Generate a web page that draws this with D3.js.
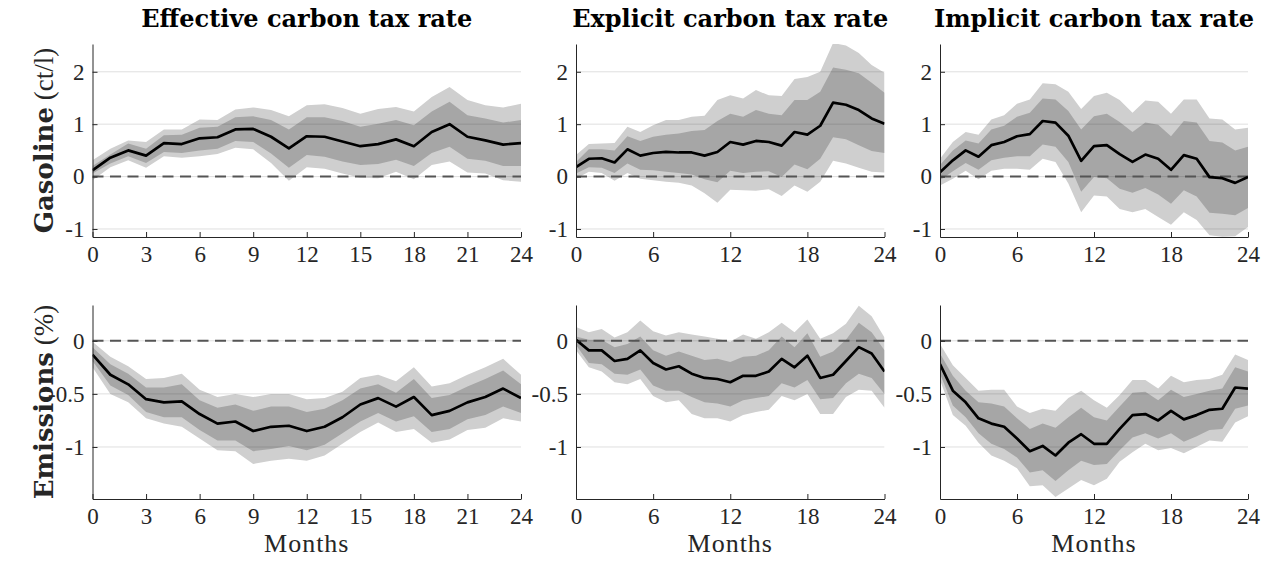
<!DOCTYPE html>
<html>
<head>
<meta charset="utf-8">
<script src="https://cdn.jsdelivr.net/npm/d3@7"></script>
<style>
  body { margin: 0; background: #fff; }
  svg { display: block; }
</style>
</head>
<body>
<svg id="chart" width="1270" height="563"></svg>
<script>
// ---- Data: impulse responses with 68% and 90% bands ----
const months = [0,1,2,3,4,5,6,7,8,9,10,11,12,13,14,15,16,17,18,19,20,21,22,23,24];

const columnTitles = ["Effective carbon tax rate", "Explicit carbon tax rate", "Implicit carbon tax rate"];
const rowLabelBold = ["Gasoline", "Emissions"];
const rowLabelUnit = ["(ct/l)", "(%)"];
const xLabel = "Months";

const gasYTicks = [-1, 0, 1, 2];
const emiYTicks = [-1, -0.5, 0];
const xTicksEffective = [0, 3, 6, 9, 12, 15, 18, 21, 24];
const xTicksOther = [0, 6, 12, 18, 24];

// Gasoline price, effective carbon tax rate
const gasEffMid  = [0.12,0.36,0.50,0.40,0.64,0.62,0.73,0.75,0.90,0.91,0.76,0.54,0.77,0.76,0.67,0.58,0.62,0.71,0.58,0.85,1.00,0.76,0.69,0.61,0.64];
const gasEffHi68 = [0.20,0.42,0.63,0.53,0.79,0.80,0.93,0.95,1.13,1.15,1.08,0.90,1.13,1.13,1.06,0.95,1.01,1.08,0.98,1.24,1.43,1.17,1.11,1.03,1.08];
const gasEffLo68 = [0.06,0.25,0.39,0.26,0.47,0.45,0.50,0.53,0.68,0.66,0.44,0.17,0.41,0.38,0.29,0.22,0.24,0.32,0.20,0.45,0.57,0.34,0.30,0.20,0.20];
const gasEffHi90 = [0.31,0.53,0.69,0.66,0.90,0.90,1.09,1.08,1.28,1.32,1.27,1.15,1.36,1.38,1.31,1.20,1.29,1.33,1.24,1.52,1.71,1.46,1.36,1.32,1.39];
const gasEffLo90 = [-0.07,0.18,0.31,0.17,0.39,0.36,0.39,0.43,0.55,0.52,0.26,-0.08,0.18,0.15,0.06,-0.02,-0.03,0.09,-0.05,0.22,0.29,0.08,0.06,-0.07,-0.10];

// Gasoline price, explicit carbon tax rate
const gasExpMid  = [0.18,0.34,0.35,0.27,0.52,0.40,0.45,0.47,0.46,0.46,0.40,0.47,0.66,0.61,0.68,0.66,0.59,0.85,0.80,0.97,1.41,1.37,1.27,1.11,1.01];
const gasExpHi68 = [0.28,0.52,0.52,0.50,0.77,0.68,0.76,0.80,0.82,0.87,0.89,1.06,1.20,1.14,1.27,1.20,1.17,1.46,1.46,1.62,2.08,2.04,1.97,1.79,1.60];
const gasExpLo68 = [0.06,0.18,0.17,0.07,0.25,0.13,0.12,0.09,0.07,0.04,-0.05,-0.11,0.11,0.07,0.09,0.10,-0.01,0.23,0.14,0.34,0.75,0.71,0.60,0.49,0.45];
const gasExpHi90 = [0.41,0.62,0.63,0.64,0.95,0.85,0.98,1.08,1.08,1.14,1.16,1.46,1.55,1.49,1.65,1.55,1.54,1.86,1.90,2.00,2.55,2.50,2.36,2.13,1.98];
const gasExpLo90 = [-0.04,0.09,0.07,-0.08,0.07,-0.04,-0.07,-0.10,-0.12,-0.17,-0.32,-0.50,-0.25,-0.26,-0.27,-0.24,-0.37,-0.17,-0.29,-0.10,0.30,0.25,0.17,0.09,0.08];

// Gasoline price, implicit carbon tax rate
const gasImpMid  = [0.08,0.31,0.50,0.38,0.60,0.66,0.77,0.81,1.06,1.03,0.78,0.30,0.58,0.60,0.43,0.28,0.42,0.34,0.13,0.41,0.34,-0.01,-0.03,-0.12,-0.01];
const gasImpHi68 = [0.22,0.50,0.69,0.63,0.90,0.97,1.14,1.22,1.49,1.47,1.25,0.90,1.15,1.20,1.04,0.85,1.03,0.99,0.77,1.06,1.03,0.68,0.65,0.50,0.57];
const gasImpLo68 = [-0.07,0.10,0.26,0.13,0.31,0.36,0.39,0.39,0.61,0.57,0.28,-0.29,-0.01,-0.03,-0.23,-0.31,-0.22,-0.34,-0.52,-0.26,-0.38,-0.69,-0.71,-0.74,-0.60];
const gasImpHi90 = [0.34,0.66,0.85,0.80,1.09,1.17,1.39,1.47,1.78,1.76,1.62,1.29,1.54,1.60,1.46,1.22,1.45,1.43,1.20,1.47,1.47,1.11,1.09,0.90,0.93];
const gasImpLo90 = [-0.17,-0.04,0.11,-0.05,0.11,0.15,0.15,0.13,0.34,0.28,-0.13,-0.68,-0.36,-0.38,-0.62,-0.68,-0.62,-0.77,-0.92,-0.68,-0.83,-1.12,-1.15,-1.14,-0.96];

// Emissions, effective carbon tax rate
const emiEffMid  = [-0.13,-0.32,-0.41,-0.55,-0.58,-0.57,-0.69,-0.78,-0.76,-0.85,-0.81,-0.80,-0.85,-0.81,-0.72,-0.60,-0.54,-0.62,-0.53,-0.70,-0.66,-0.58,-0.53,-0.45,-0.54];
const emiEffHi68 = [-0.06,-0.22,-0.31,-0.44,-0.44,-0.41,-0.56,-0.63,-0.60,-0.66,-0.62,-0.62,-0.67,-0.64,-0.56,-0.45,-0.41,-0.49,-0.36,-0.54,-0.51,-0.43,-0.36,-0.28,-0.41];
const emiEffLo68 = [-0.19,-0.42,-0.51,-0.67,-0.72,-0.72,-0.84,-0.94,-0.94,-1.04,-1.02,-0.99,-1.03,-0.98,-0.87,-0.76,-0.68,-0.76,-0.71,-0.86,-0.83,-0.74,-0.70,-0.62,-0.68];
const emiEffHi90 = [-0.01,-0.15,-0.24,-0.36,-0.35,-0.31,-0.46,-0.53,-0.50,-0.53,-0.50,-0.50,-0.55,-0.54,-0.48,-0.35,-0.32,-0.38,-0.25,-0.43,-0.40,-0.32,-0.25,-0.17,-0.32];
const emiEffLo90 = [-0.25,-0.50,-0.58,-0.73,-0.78,-0.81,-0.92,-1.03,-1.04,-1.16,-1.13,-1.11,-1.13,-1.08,-0.97,-0.86,-0.77,-0.86,-0.83,-0.96,-0.93,-0.84,-0.82,-0.73,-0.76];

// Emissions, explicit carbon tax rate
const emiExpMid  = [0.01,-0.09,-0.09,-0.19,-0.17,-0.09,-0.21,-0.27,-0.24,-0.31,-0.35,-0.36,-0.39,-0.33,-0.33,-0.29,-0.17,-0.25,-0.14,-0.35,-0.32,-0.19,-0.06,-0.12,-0.29];
const emiExpHi68 = [0.04,0.01,0.01,-0.06,-0.03,0.04,-0.09,-0.14,-0.10,-0.14,-0.18,-0.17,-0.20,-0.15,-0.14,-0.09,0.04,-0.06,0.07,-0.15,-0.10,0.01,0.17,0.08,-0.09];
const emiExpLo68 = [-0.04,-0.21,-0.22,-0.31,-0.32,-0.27,-0.42,-0.47,-0.47,-0.53,-0.58,-0.59,-0.62,-0.56,-0.54,-0.52,-0.40,-0.44,-0.37,-0.55,-0.54,-0.40,-0.31,-0.35,-0.50];
const emiExpHi90 = [0.13,0.08,0.11,0.03,0.08,0.19,0.09,0.05,0.08,0.06,0.04,0.02,-0.01,0.06,0.02,0.08,0.17,0.08,0.20,0.02,0.07,0.16,0.33,0.23,0.03];
const emiExpLo90 = [-0.09,-0.25,-0.29,-0.39,-0.41,-0.36,-0.52,-0.58,-0.56,-0.69,-0.73,-0.73,-0.76,-0.70,-0.67,-0.65,-0.52,-0.56,-0.50,-0.69,-0.69,-0.53,-0.46,-0.47,-0.63];

// Emissions, implicit carbon tax rate
const emiImpMid  = [-0.22,-0.47,-0.58,-0.73,-0.78,-0.81,-0.92,-1.04,-0.99,-1.08,-0.96,-0.88,-0.97,-0.97,-0.83,-0.70,-0.69,-0.75,-0.66,-0.74,-0.70,-0.65,-0.64,-0.44,-0.45];
const emiImpHi68 = [-0.12,-0.33,-0.47,-0.58,-0.59,-0.62,-0.73,-0.83,-0.78,-0.82,-0.72,-0.63,-0.72,-0.75,-0.62,-0.49,-0.48,-0.56,-0.46,-0.53,-0.50,-0.47,-0.45,-0.25,-0.29];
const emiImpLo68 = [-0.31,-0.61,-0.72,-0.87,-0.97,-1.02,-1.10,-1.24,-1.22,-1.32,-1.22,-1.13,-1.17,-1.16,-1.03,-0.91,-0.87,-0.92,-0.87,-0.95,-0.90,-0.84,-0.83,-0.64,-0.61];
const emiImpHi90 = [-0.03,-0.23,-0.35,-0.47,-0.46,-0.46,-0.62,-0.68,-0.64,-0.66,-0.54,-0.47,-0.56,-0.63,-0.51,-0.37,-0.37,-0.45,-0.33,-0.39,-0.37,-0.36,-0.32,-0.13,-0.18];
const emiImpLo90 = [-0.37,-0.70,-0.80,-0.96,-1.08,-1.13,-1.20,-1.37,-1.36,-1.47,-1.39,-1.31,-1.36,-1.30,-1.14,-1.05,-0.97,-1.03,-1.01,-1.06,-1.00,-0.94,-0.95,-0.77,-0.71];

// ---- Panel table built from the arrays above ----
const rows = [
  { yDomain: [-1.153, 2.53], yTicks: gasYTicks,
    series: [
      { mid: gasEffMid, hi68: gasEffHi68, lo68: gasEffLo68, hi90: gasEffHi90, lo90: gasEffLo90 },
      { mid: gasExpMid, hi68: gasExpHi68, lo68: gasExpLo68, hi90: gasExpHi90, lo90: gasExpLo90 },
      { mid: gasImpMid, hi68: gasImpHi68, lo68: gasImpLo68, hi90: gasImpHi90, lo90: gasImpLo90 }
    ] },
  { yDomain: [-1.49, 0.337], yTicks: emiYTicks,
    series: [
      { mid: emiEffMid, hi68: emiEffHi68, lo68: emiEffLo68, hi90: emiEffHi90, lo90: emiEffLo90 },
      { mid: emiExpMid, hi68: emiExpHi68, lo68: emiExpLo68, hi90: emiExpHi90, lo90: emiExpLo90 },
      { mid: emiImpMid, hi68: emiImpHi68, lo68: emiImpLo68, hi90: emiImpHi90, lo90: emiImpLo90 }
    ] }
];
const columnXTicks = [xTicksEffective, xTicksOther, xTicksOther];

// ---- Layout ----
const colRanges = [[92.5, 521], [576, 884.5], [940, 1248]];
const rowRanges = [[44, 237], [305, 499]];

const serif = "'Liberation Serif', 'Times New Roman', serif";
const serifBold = "'DejaVu Serif', serif";
const axisColor = "#262626";
const band90Color = "#cfcfcf";
const band68Color = "#a6a6a6";

const svg = d3.select("#chart");
const defs = svg.append("defs");

rows.forEach((row, r) => {
  const [yTop, yBot] = rowRanges[r];
  const y = d3.scaleLinear().domain(row.yDomain).range([yBot, yTop]);

  row.series.forEach((s, c) => {
    const [x0, x1] = colRanges[c];
    const x = d3.scaleLinear().domain([months[0], months[months.length - 1]]).range([x0, x1]);
    const clipId = `clip-${r}-${c}`;
    defs.append("clipPath").attr("id", clipId)
      .append("rect").attr("x", x0).attr("y", yTop).attr("width", x1 - x0).attr("height", yBot - yTop);

    const g = svg.append("g");
    const plot = g.append("g").attr("clip-path", `url(#${clipId})`);

    const band = (lo, hi) => d3.area()
      .x((d, i) => x(months[i]))
      .y0((d, i) => y(lo[i]))
      .y1((d, i) => y(hi[i]));

    plot.append("path").datum(s.mid).attr("d", band(s.lo90, s.hi90)).attr("fill", band90Color);
    plot.append("path").datum(s.mid).attr("d", band(s.lo68, s.hi68)).attr("fill", band68Color);

    // horizontal grid lines
    plot.selectAll("line.grid").data(row.yTicks).join("line")
      .attr("class", "grid")
      .attr("x1", x0).attr("x2", x1)
      .attr("y1", d => y(d)).attr("y2", d => y(d))
      .attr("stroke", axisColor).attr("stroke-opacity", 0.15).attr("stroke-width", 1);

    // zero reference line
    plot.append("line")
      .attr("x1", x0).attr("x2", x1).attr("y1", y(0)).attr("y2", y(0))
      .attr("stroke", "#555").attr("stroke-width", 2).attr("stroke-dasharray", "11,6.5");

    // point estimate
    plot.append("path").datum(s.mid)
      .attr("d", d3.line().x((d, i) => x(months[i])).y(d => y(d)))
      .attr("fill", "none").attr("stroke", "#000").attr("stroke-width", 2.7)
      .attr("stroke-linejoin", "round");

    // axes with inward ticks
    const xAxis = g.append("g").attr("transform", `translate(0,${yBot})`)
      .call(d3.axisBottom(x).tickValues(columnXTicks[c]).tickSizeInner(-5).tickSizeOuter(0)
        .tickPadding(9).tickFormat(d => String(d)));
    const yAxis = g.append("g").attr("transform", `translate(${x0},0)`)
      .call(d3.axisLeft(y).tickValues(row.yTicks).tickSizeInner(-5).tickSizeOuter(0)
        .tickPadding(8).tickFormat(d => String(d)));

    [xAxis, yAxis].forEach(a => {
      a.select(".domain").attr("stroke", axisColor).attr("stroke-width", 1);
      a.selectAll(".tick line").attr("stroke", axisColor).attr("stroke-width", 1);
      a.selectAll(".tick text").attr("fill", axisColor)
        .style("font-family", serif).style("font-size", "23px");
    });

    if (r === 0) {
      svg.append("text")
        .attr("x", (x0 + x1) / 2).attr("y", 27)
        .attr("text-anchor", "middle")
        .style("font-family", serifBold).style("font-weight", "bold").style("font-size", "24px")
        .attr("fill", "#000")
        .text(columnTitles[c]);
    }
    if (r === rows.length - 1) {
      svg.append("text")
        .attr("x", (x0 + x1) / 2).attr("y", 552)
        .attr("text-anchor", "middle")
        .style("font-family", serif).style("font-size", "26px").style("letter-spacing", "1px")
        .attr("fill", axisColor)
        .text(xLabel);
    }
  });

  // row label, rotated
  const label = svg.append("text")
    .attr("transform", `translate(53,${(yTop + yBot) / 2}) rotate(-90)`)
    .attr("text-anchor", "middle")
    .attr("fill", axisColor);
  label.append("tspan")
    .style("font-family", serifBold).style("font-weight", "bold").style("font-size", "26px")
    .text(rowLabelBold[r]);
  label.append("tspan")
    .style("font-family", serif).style("font-size", "27px")
    .text(" " + rowLabelUnit[r]);
});
</script>
</body>
</html>
